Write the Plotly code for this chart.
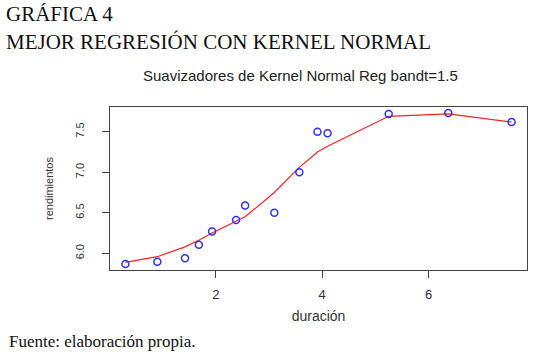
import plotly.graph_objects as go

duracion = [0.30, 0.90, 1.42, 1.68, 1.93, 2.38, 2.55, 3.10, 3.57, 3.91, 4.10, 5.25, 6.37, 7.56]
rendimientos = [5.868, 5.896, 5.938, 6.106, 6.27, 6.41, 6.59, 6.50, 7.00, 7.50, 7.48, 7.72, 7.73, 7.62]
suavizado = [5.889, 5.958, 6.08, 6.16, 6.25, 6.40, 6.45, 6.75, 7.06, 7.25, 7.32, 7.69, 7.72, 7.62]
x_ticks = [2, 4, 6]
y_ticks = [6.0, 6.5, 7.0, 7.5]
y_tick_labels = ["6.0", "6.5", "7.0", "7.5"]

SANS = "Liberation Sans, Arial, sans-serif"
SERIF = "Liberation Serif, Times New Roman, serif"

fig = go.Figure()
fig.add_trace(go.Scatter(x=duracion, y=suavizado, mode="lines",
                         line=dict(color="#ff2020", width=1.2), hoverinfo="skip"))
fig.add_trace(go.Scatter(x=duracion, y=rendimientos, mode="markers",
                         marker=dict(symbol="circle-open", size=7, color="#3030f0",
                                     line=dict(width=1.5, color="#3030f0"))))

axis_common = dict(showgrid=False, zeroline=False, showline=True, linecolor="#444",
                   linewidth=1, mirror=True, ticks="outside", tickcolor="#444",
                   tickwidth=1, ticklen=7)

fig.update_layout(
    width=542, height=358,
    margin=dict(l=110, r=15, t=107, b=88),
    paper_bgcolor="white", plot_bgcolor="white",
    showlegend=False,
    xaxis=dict(range=[0.01, 7.85], tickvals=x_ticks, ticklabelstandoff=5,
               tickfont=dict(family=SANS, size=13, color="#333"),
               title=dict(text="duración", standoff=10,
                          font=dict(family=SANS, size=14, color="#333")),
               **axis_common),
    yaxis=dict(range=[5.794, 7.805], tickvals=y_ticks, ticktext=y_tick_labels,
               tickangle=-90, ticklabelstandoff=14,
               tickfont=dict(family=SANS, size=11, color="#333"),
               title=dict(text="rendimientos", standoff=17,
                          font=dict(family=SANS, size=11, color="#333")),
               **axis_common),
    annotations=[
        dict(text="GRÁFICA 4", xref="paper", yref="paper", x=0, y=1, xanchor="left", yanchor="middle",
             showarrow=False, font=dict(family=SERIF, size=21, color="#111"),
             xshift=-106, yshift=107 - 14),
        dict(text="MEJOR REGRESIÓN CON KERNEL NORMAL", xref="paper", yref="paper", x=0, y=1,
             xanchor="left", yanchor="middle", showarrow=False,
             font=dict(family=SERIF, size=21, color="#111"),
             xshift=-106, yshift=107 - 42),
        dict(text="Suavizadores de Kernel Normal Reg bandt=1.5", xref="paper", yref="paper",
             x=0.5, y=1, xanchor="center", yanchor="middle", showarrow=False,
             font=dict(family=SANS, size=15, color="#222"),
             xshift=300 - 318.5, yshift=107 - 75),
        dict(text="Fuente: elaboración propia.", xref="paper", yref="paper", x=0, y=0,
             xanchor="left", yanchor="middle", showarrow=False,
             font=dict(family=SERIF, size=17, color="#111"),
             xshift=-103, yshift=270 - 341),
    ],
)

fig.write_html("out.html", config={"displayModeBar": False},
               post_script="document.body.style.margin='0';document.body.style.overflow='hidden';")
